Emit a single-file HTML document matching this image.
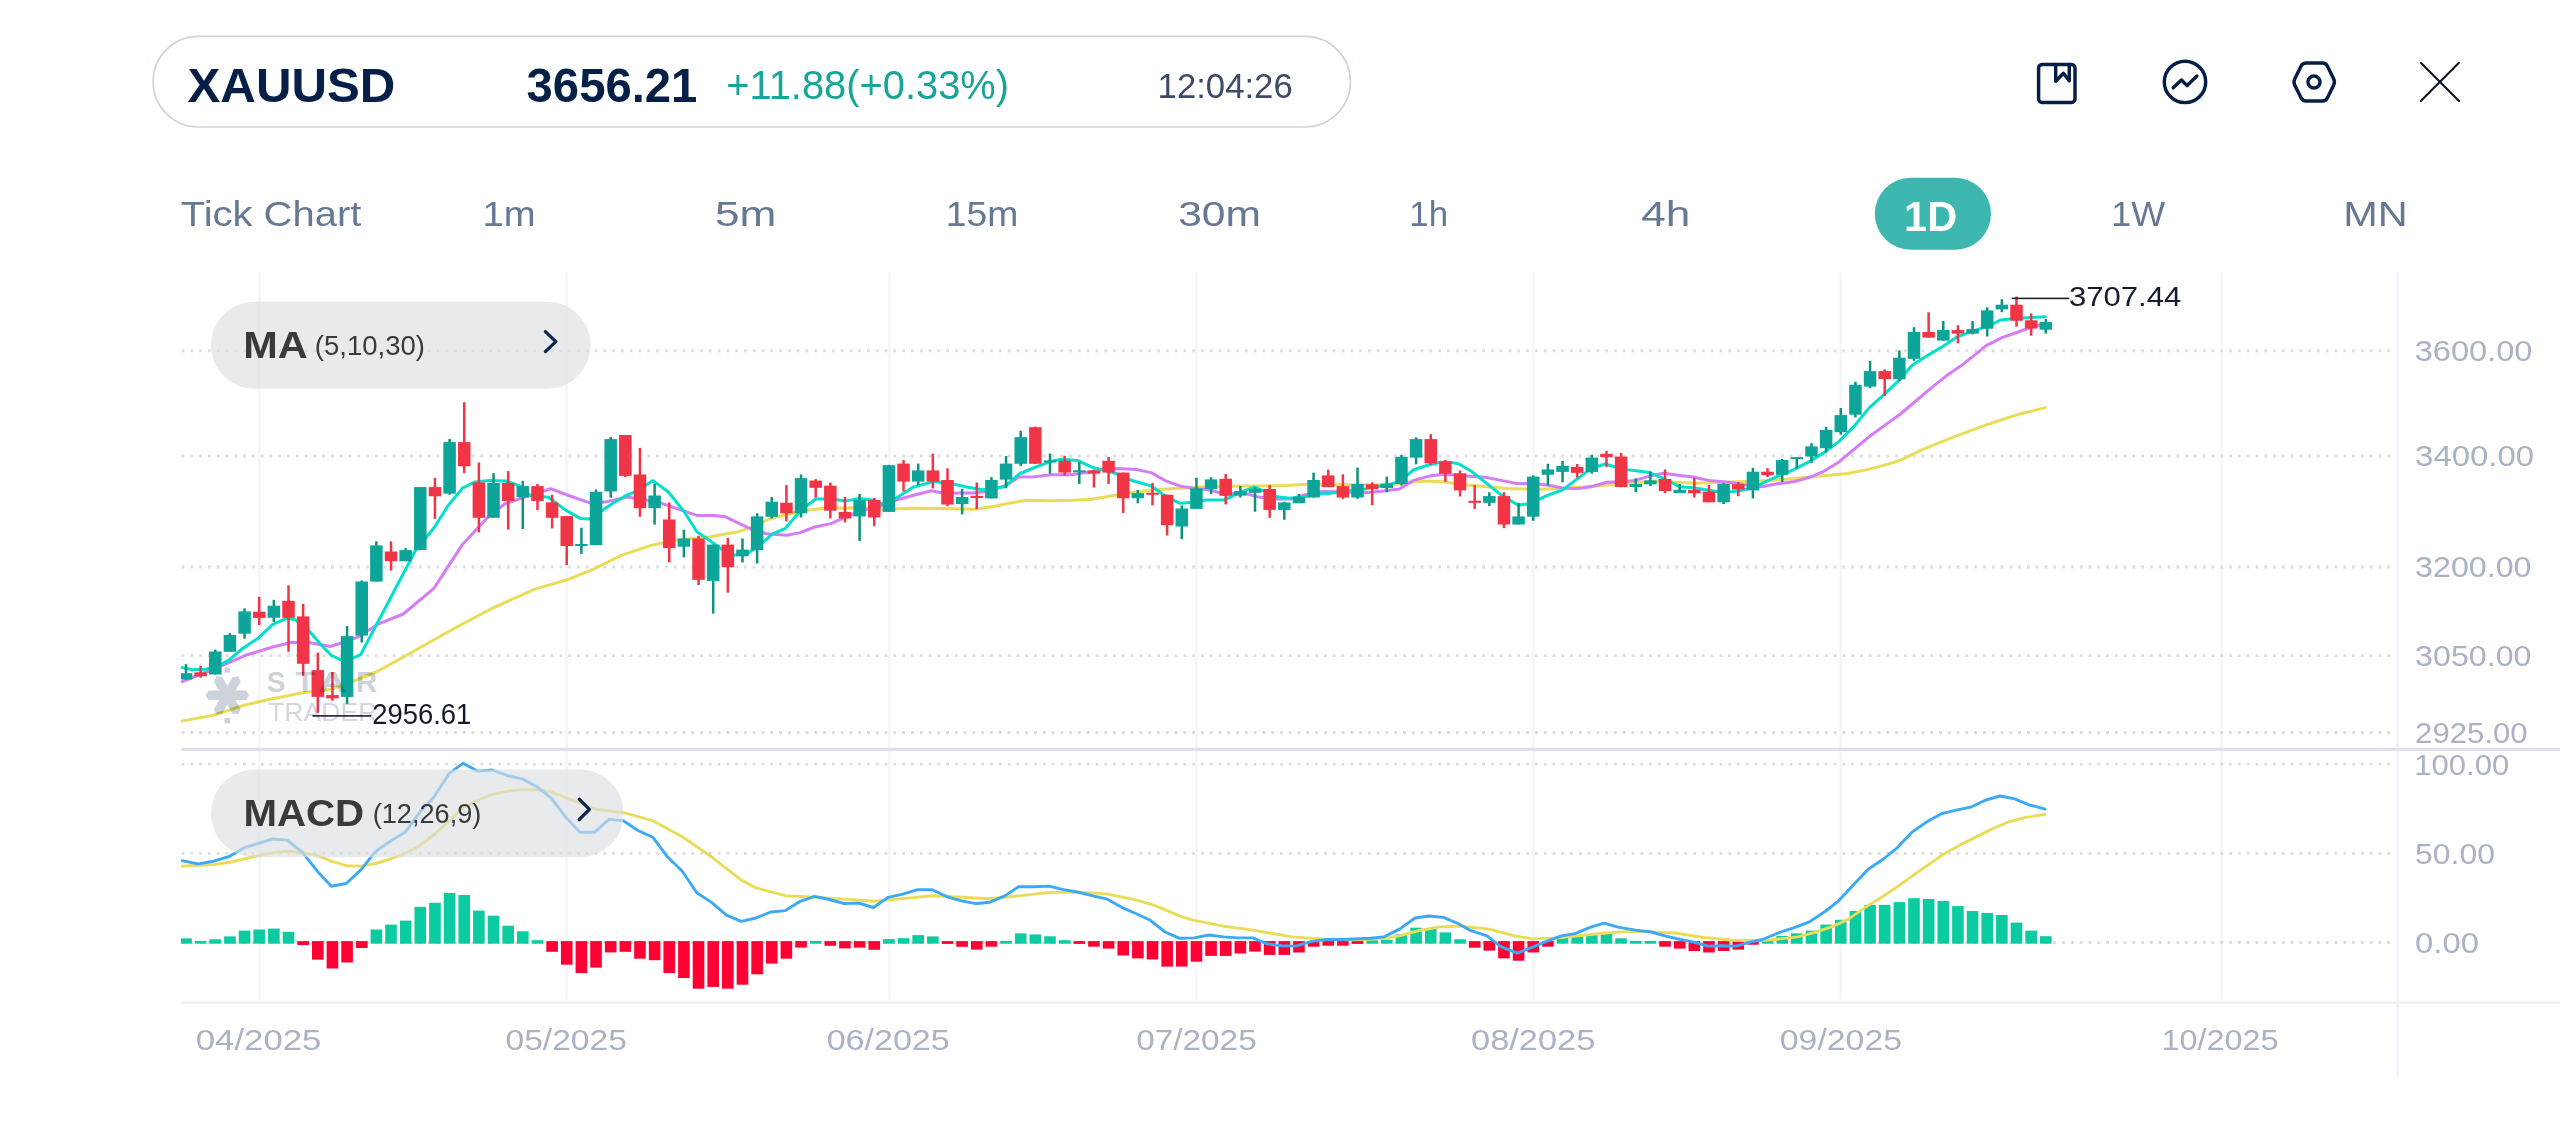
<!DOCTYPE html>
<html><head><meta charset="utf-8"><title>XAUUSD</title>
<style>html,body{margin:0;padding:0;background:#fff;}body{width:2560px;height:1124px;overflow:hidden;font-family:"Liberation Sans", sans-serif;}svg{display:block;}</style>
</head><body>
<svg width="2560" height="1124" viewBox="0 0 2560 1124" font-family='"Liberation Sans", sans-serif'>
<rect width="2560" height="1124" fill="#fff"/>
<rect x="153.1" y="36.4" width="1197.3" height="90.6" rx="45.3" fill="#fff" stroke="#CDD4E0" stroke-width="1.7"/>
<text x="187.5" y="101.9" font-size="47.91" fill="#061F47" font-weight="bold" textLength="207.9" lengthAdjust="spacingAndGlyphs">XAUUSD</text>
<text x="526.6" y="101.9" font-size="47.49" fill="#061F47" font-weight="bold" textLength="170.8" lengthAdjust="spacingAndGlyphs">3656.21</text>
<text x="726.2" y="99.1" font-size="39.8" fill="#16A596" textLength="282.8" lengthAdjust="spacingAndGlyphs">+11.88(+0.33%)</text>
<text x="1157.6" y="98" font-size="34.64" fill="#3F4B67" textLength="135.1" lengthAdjust="spacingAndGlyphs">12:04:26</text>
<g fill="none" stroke="#041E46" stroke-width="3.45" stroke-linecap="round" stroke-linejoin="round">
<rect x="2038.6" y="64.5" width="36.4" height="37.9" rx="3.4"/>
<path d="M2055.7 64.5 V81.3 L2063.4 73.3 L2069.3 80.8 V64.5"/>
<circle cx="2185.0" cy="81.9" r="20.7"/>
<path d="M2173.2 87.8 L2181.5 80.0 L2187.1 85.6 L2196.9 76.0"/>
<path d="M2306.20 63.00 L2322.30 63.00 Q2325.90 63.00 2327.48 66.23 L2333.62 78.77 Q2335.20 82.00 2333.62 85.23 L2327.48 97.77 Q2325.90 101.00 2322.30 101.00 L2306.20 101.00 Q2302.60 101.00 2301.00 97.77 L2294.80 85.23 Q2293.20 82.00 2294.80 78.77 L2301.00 66.23 Q2302.60 63.00 2306.20 63.00 Z"/>
<circle cx="2314" cy="82" r="6.05"/>
</g>
<path d="M2420.8 62.8 L2459.0 101.0 M2459.0 62.8 L2420.8 101.0" stroke="#0F1423" stroke-width="2.1" stroke-linecap="round" fill="none"/>
<text x="180.8" y="225.6" font-size="34.36" fill="#667894" textLength="180.5" lengthAdjust="spacingAndGlyphs">Tick Chart</text>
<text x="482.6" y="225.6" font-size="34.36" fill="#667894" textLength="53" lengthAdjust="spacingAndGlyphs">1m</text>
<text x="715" y="225.6" font-size="34.36" fill="#667894" textLength="61.4" lengthAdjust="spacingAndGlyphs">5m</text>
<text x="945.8" y="225.6" font-size="34.36" fill="#667894" textLength="72.5" lengthAdjust="spacingAndGlyphs">15m</text>
<text x="1178.2" y="225.6" font-size="34.36" fill="#667894" textLength="82.8" lengthAdjust="spacingAndGlyphs">30m</text>
<text x="1409.3" y="225.6" font-size="34.36" fill="#667894" textLength="38.7" lengthAdjust="spacingAndGlyphs">1h</text>
<text x="1641.3" y="225.6" font-size="34.36" fill="#667894" textLength="49.1" lengthAdjust="spacingAndGlyphs">4h</text>
<text x="2111.2" y="225.6" font-size="34.36" fill="#667894" textLength="53.8" lengthAdjust="spacingAndGlyphs">1W</text>
<text x="2343.2" y="225.6" font-size="34.36" fill="#667894" textLength="64.5" lengthAdjust="spacingAndGlyphs">MN</text>
<rect x="1874.8" y="177.8" width="116.2" height="72" rx="36" fill="#3DB7AF"/>
<text x="1904.1" y="230.6" font-size="41.9" fill="#FFFFFF" font-weight="bold" textLength="53.1" lengthAdjust="spacingAndGlyphs">1D</text>
<rect x="258.1" y="272.5" width="2.6" height="727" fill="#F5F6F8"/>
<rect x="565.3" y="272.5" width="2.6" height="727" fill="#F5F6F8"/>
<rect x="888.1" y="272.5" width="2.6" height="727" fill="#F5F6F8"/>
<rect x="1195.2" y="272.5" width="2.6" height="727" fill="#F5F6F8"/>
<rect x="1532" y="272.5" width="2.6" height="727" fill="#F5F6F8"/>
<rect x="1839.5" y="272.5" width="2.6" height="727" fill="#F5F6F8"/>
<rect x="2220.1" y="272.5" width="2.6" height="727" fill="#F5F6F8"/>
<rect x="2396.2" y="272.4" width="2.7" height="474.4" fill="#F1F2F5"/>
<rect x="2396.2" y="751.2" width="2.7" height="325.8" fill="#F1F2F5"/>
<line x1="181.63" y1="350.8" x2="2390.2" y2="350.8" stroke="#DDDDE0" stroke-width="2.8" stroke-dasharray="2.8 5.9875"/>
<line x1="181.63" y1="456" x2="2390.2" y2="456" stroke="#DDDDE0" stroke-width="2.8" stroke-dasharray="2.8 5.9875"/>
<line x1="181.63" y1="567" x2="2390.2" y2="567" stroke="#DDDDE0" stroke-width="2.8" stroke-dasharray="2.8 5.9875"/>
<line x1="181.63" y1="655.6" x2="2390.2" y2="655.6" stroke="#DDDDE0" stroke-width="2.8" stroke-dasharray="2.8 5.9875"/>
<line x1="181.63" y1="732.5" x2="2390.2" y2="732.5" stroke="#DDDDE0" stroke-width="2.8" stroke-dasharray="2.8 5.9875"/>
<line x1="181.63" y1="764.2" x2="2390.2" y2="764.2" stroke="#DDDDE0" stroke-width="2.8" stroke-dasharray="2.8 5.9875"/>
<line x1="181.63" y1="853.3" x2="2390.2" y2="853.3" stroke="#DDDDE0" stroke-width="2.8" stroke-dasharray="2.8 5.9875"/>
<line x1="181.63" y1="942.5" x2="2390.2" y2="942.5" stroke="#DDDDE0" stroke-width="2.8" stroke-dasharray="2.8 5.9875"/>
<rect x="181" y="747.8" width="2379" height="3" fill="#DCE0EC"/>
<rect x="181" y="1001.6" width="2379" height="2.2" fill="#EFF0F3"/>
<text x="2414.7" y="361.1" font-size="28.77" fill="#A9B3C4" textLength="117.8" lengthAdjust="spacingAndGlyphs">3600.00</text>
<text x="2415.1" y="466.3" font-size="28.77" fill="#A9B3C4" textLength="119" lengthAdjust="spacingAndGlyphs">3400.00</text>
<text x="2415.1" y="577.3" font-size="28.77" fill="#A9B3C4" textLength="116.4" lengthAdjust="spacingAndGlyphs">3200.00</text>
<text x="2415.1" y="665.9" font-size="28.77" fill="#A9B3C4" textLength="116.4" lengthAdjust="spacingAndGlyphs">3050.00</text>
<text x="2415.1" y="742.8" font-size="28.77" fill="#A9B3C4" textLength="112.6" lengthAdjust="spacingAndGlyphs">2925.00</text>
<text x="2414.3" y="774.5" font-size="28.77" fill="#A9B3C4" textLength="94.9" lengthAdjust="spacingAndGlyphs">100.00</text>
<text x="2415.1" y="863.6" font-size="28.77" fill="#A9B3C4" textLength="79.8" lengthAdjust="spacingAndGlyphs">50.00</text>
<text x="2415.1" y="952.8" font-size="28.77" fill="#A9B3C4" textLength="63.9" lengthAdjust="spacingAndGlyphs">0.00</text>
<text x="195.8" y="1049.7" font-size="29.61" fill="#A9B3C4" textLength="125.6" lengthAdjust="spacingAndGlyphs">04/2025</text>
<text x="505.5" y="1049.7" font-size="29.61" fill="#A9B3C4" textLength="121.4" lengthAdjust="spacingAndGlyphs">05/2025</text>
<text x="826.65" y="1049.7" font-size="29.61" fill="#A9B3C4" textLength="123.1" lengthAdjust="spacingAndGlyphs">06/2025</text>
<text x="1136.35" y="1049.7" font-size="29.61" fill="#A9B3C4" textLength="120.3" lengthAdjust="spacingAndGlyphs">07/2025</text>
<text x="1471" y="1049.7" font-size="29.61" fill="#A9B3C4" textLength="124.4" lengthAdjust="spacingAndGlyphs">08/2025</text>
<text x="1779.8" y="1049.7" font-size="29.61" fill="#A9B3C4" textLength="122.2" lengthAdjust="spacingAndGlyphs">09/2025</text>
<text x="2161.6" y="1049.7" font-size="29.61" fill="#A9B3C4" textLength="117" lengthAdjust="spacingAndGlyphs">10/2025</text>
<path d="M181.7 721.1 L213.8 715.1 L244.1 705.2 L269.8 699.2 L304.6 692.4 L327.3 690.1 L342.4 685.6 L357.5 679.5 L376 672 L400 659 L430 642 L460.5 625 L493.2 607.8 L534.2 589.4 L567 579.8 L594.6 568.6 L621.2 555.3 L651.9 545.1 L678.5 539.9 L709.1 536.9 L737.8 531.8 L750.1 527.7 L770.5 518.5 L795 512.5 L806.4 510.3 L822.7 508.6 L851.4 507.8 L882.1 509.2 L912.8 508.2 L943.5 508.6 L974.2 509.2 L994.6 506.2 L1010 503 L1026.4 500.3 L1050.9 500.7 L1071.4 500.3 L1091.8 499.2 L1112.3 495.8 L1132.8 492.5 L1153.2 490 L1173.7 488.4 L1194.2 487.6 L1214.6 486.4 L1240 485.9 L1258.5 486.1 L1286.9 485.4 L1306.9 484.3 L1329.6 484.8 L1358.1 484.8 L1379.4 485.1 L1400.8 484 L1415 481.8 L1429.3 481.1 L1443.5 481.8 L1460 484.5 L1478.5 486.1 L1506.9 488.5 L1535.4 489.4 L1563.9 488.2 L1592.3 486.5 L1613.7 484.3 L1635 482.6 L1656.4 481 L1680 482.4 L1696.7 483.2 L1723.4 482.3 L1746.5 481.5 L1767.9 480.6 L1794.6 478.4 L1821.2 476.1 L1847.9 473.5 L1865.7 469.9 L1883.5 465.4 L1899.8 460.5 L1922 449.7 L1954 436.9 L1986.1 424.9 L2018.1 414.5 L2045.3 407.6" fill="none" stroke="#EADC56" stroke-width="3.0" stroke-linejoin="round" stroke-linecap="round"/>
<path d="M181.7 681.8 L191.1 678 L206.3 672 L221.4 665.9 L245.6 655.3 L272.8 647 L291 642.5 L309.1 642.5 L330.3 646.5 L345.4 641.7 L357.5 637.2 L378 624.2 L403.2 614 L433.9 588.4 L462.5 544.4 L489.1 515.7 L505.5 503.5 L524 497.3 L550.5 488.7 L570 496 L590.5 503.1 L604.8 502.1 L627.3 497 L658 502.1 L678.5 509.2 L696.9 515.4 L713.2 515.4 L725.5 516.8 L750.1 528.7 L766.4 533.8 L786.9 535.2 L800.1 532.6 L814.6 527 L830.9 523.6 L847.3 516.4 L863.7 510.3 L880 506.2 L896.4 500 L912.8 495.5 L931.2 490.8 L945.5 493.5 L959.8 492.9 L974.2 492.9 L990.5 490.8 L1004.9 485.7 L1019 477 L1034.6 476.7 L1050.9 474.7 L1071.4 474.7 L1091.8 471.6 L1102.1 469.6 L1116.4 468.5 L1136.9 469.6 L1151.2 472.6 L1165.5 480.8 L1179.8 485.9 L1194.2 488.4 L1210.5 490 L1224.9 494.5 L1242 492.5 L1258.5 497.1 L1277 498.9 L1291.2 498.9 L1305.4 494.6 L1322.5 491.4 L1336.7 491.8 L1351 492.2 L1365.2 492.8 L1383.7 491.1 L1399.4 489 L1413.6 480.4 L1429.3 476.1 L1443.5 474.3 L1460 475.6 L1487 477.6 L1501.2 480.4 L1518.3 483.7 L1529.7 483.3 L1546.8 485.1 L1563.9 488.2 L1578.1 488.5 L1592.3 486.5 L1606.6 482.3 L1620.8 481.8 L1635 480.4 L1652.1 475.4 L1663.5 473.3 L1680 475.4 L1693.1 477 L1709.1 480.6 L1728.7 482.3 L1746.5 485 L1762.5 486.8 L1776.8 483.8 L1794.6 481.5 L1810.6 477 L1824.8 470.8 L1839 461.9 L1855 448.5 L1871.1 435.2 L1887.1 423.6 L1899.8 414.5 L1914 402.5 L1930 388.9 L1946 376.1 L1962.1 364.9 L1973.3 356.1 L1986.1 345.7 L2002.1 337.6 L2018.1 332 L2029.3 328 L2045 323.5" fill="none" stroke="#D57CF8" stroke-width="3.0" stroke-linejoin="round" stroke-linecap="round"/>
<path d="M181.7 667.4 L191.9 669.7 L206.3 669.2 L221.4 664.4 L228.2 660.6 L242.6 648.5 L258.5 637.9 L272.8 624.3 L287.2 618.2 L295.5 619.8 L309.1 631.1 L319.7 643.2 L331.1 655.3 L340.9 659.8 L352.2 658.3 L360.6 654.6 L376.3 625 L415.5 550.5 L433.9 528 L448.2 505.5 L462.5 488.1 L474.8 482 L489.1 480.5 L505.5 481 L519.8 486 L530 495.3 L548.5 497.3 L564.9 509.6 L580.1 518.4 L589.4 519.1 L602.7 510.3 L610.9 504.5 L625.2 496 L637.5 490.8 L652.9 480.6 L668.2 491.8 L684.6 512.3 L696.9 531.8 L713.2 543 L721.4 549.1 L733.7 555.3 L748 553.2 L762.3 543 L772.6 533.8 L784.9 528.7 L801 510.3 L815.6 499 L830.9 499 L845.2 501.1 L859.6 498.4 L871.8 500 L882.1 504.1 L896.4 498 L912.8 487.3 L933.2 481.6 L953.7 484.1 L968 487.3 L982.3 489.8 L1004.9 486.7 L1019 474 L1034.6 467.5 L1050.9 461.4 L1061.2 459.3 L1077.5 460.4 L1091.8 467.1 L1102.1 469.6 L1116.4 473.7 L1132.8 480.8 L1151.2 485.9 L1165.5 496.2 L1179.8 503.3 L1194.2 502.3 L1206.4 499.9 L1224.9 499.9 L1239 492.6 L1254.2 487.1 L1264.2 491.1 L1277 496.8 L1289.8 498.2 L1304 496.8 L1315.4 494.6 L1329.6 493.2 L1343.9 491.1 L1358.1 490.4 L1372.3 487.5 L1386.6 485.1 L1400.8 481.1 L1413.6 469.7 L1429.3 464.8 L1440.6 462.2 L1452 462.6 L1459 464 L1471.3 471.2 L1485.6 482.6 L1499.8 493.9 L1509.8 500.3 L1518.3 505.3 L1526.9 503.9 L1539.7 498.9 L1549.6 494.6 L1562.4 490 L1575.2 480.4 L1586.6 471.9 L1598 466.2 L1605.1 464 L1615.1 466.9 L1627.9 469.7 L1649.3 472.6 L1663.5 478.3 L1679.5 486.8 L1693.1 487.7 L1705.6 489.8 L1723.4 492.7 L1741.2 490.4 L1753.6 487.3 L1764.3 482.3 L1776.8 476.7 L1791 470.8 L1808.8 461.9 L1824.8 452.1 L1839 441.4 L1853.3 427.2 L1869.3 407.6 L1883.5 395.2 L1899.8 379.6 L1912.4 364.9 L1925.2 356.9 L1942.8 346.5 L1957.3 336.8 L1973.3 330.9 L1987.7 326.4 L2000.5 320 L2014.9 318.4 L2030.9 317.6 L2045.3 316.8" fill="none" stroke="#02DFCB" stroke-width="3.0" stroke-linejoin="round" stroke-linecap="round"/>
<rect x="184.75" y="664.1" width="2.5" height="15.4" fill="#0B937C"/>
<rect x="179.75" y="673.2" width="12.5" height="6.3" fill="#0DA49A"/>
<rect x="199.39" y="665.9" width="2.5" height="11.8" fill="#F13547"/>
<rect x="194.39" y="672.3" width="12.5" height="3.9" fill="#F13547"/>
<rect x="214.04" y="649.6" width="2.5" height="24.9" fill="#0B937C"/>
<rect x="209.04" y="651.5" width="12.5" height="23" fill="#0DA49A"/>
<rect x="228.68" y="633.1" width="2.5" height="18.7" fill="#0B937C"/>
<rect x="223.68" y="634.9" width="12.5" height="16.9" fill="#0DA49A"/>
<rect x="243.33" y="608.4" width="2.5" height="30.3" fill="#0B937C"/>
<rect x="238.33" y="611.4" width="12.5" height="22.3" fill="#0DA49A"/>
<rect x="257.97" y="596.8" width="2.5" height="28.2" fill="#F13547"/>
<rect x="252.97" y="611.7" width="12.5" height="6.2" fill="#F13547"/>
<rect x="272.61" y="599.8" width="2.5" height="22.2" fill="#0B937C"/>
<rect x="267.61" y="605.7" width="12.5" height="12.1" fill="#0DA49A"/>
<rect x="287.26" y="585.3" width="2.5" height="66.5" fill="#F13547"/>
<rect x="282.26" y="600.8" width="12.5" height="17" fill="#F13547"/>
<rect x="301.9" y="603.9" width="2.5" height="71.8" fill="#F13547"/>
<rect x="296.9" y="616.4" width="12.5" height="47.4" fill="#F13547"/>
<rect x="316.55" y="652.6" width="2.5" height="60.2" fill="#F13547"/>
<rect x="311.55" y="670.1" width="12.5" height="26.8" fill="#F13547"/>
<rect x="331.19" y="672" width="2.5" height="28.7" fill="#F13547"/>
<rect x="326.19" y="695.1" width="12.5" height="3.3" fill="#F13547"/>
<rect x="345.83" y="626.1" width="2.5" height="77.6" fill="#0B937C"/>
<rect x="340.83" y="636.1" width="12.5" height="60.8" fill="#0DA49A"/>
<rect x="360.48" y="580.4" width="2.5" height="62.1" fill="#0B937C"/>
<rect x="355.48" y="581.5" width="12.5" height="54.1" fill="#0DA49A"/>
<rect x="375.12" y="541.3" width="2.5" height="40.3" fill="#0B937C"/>
<rect x="370.12" y="545.4" width="12.5" height="36.2" fill="#0DA49A"/>
<rect x="389.77" y="541.3" width="2.5" height="29.3" fill="#F13547"/>
<rect x="384.77" y="551.5" width="12.5" height="9.7" fill="#F13547"/>
<rect x="404.41" y="548.1" width="2.5" height="13.1" fill="#0B937C"/>
<rect x="399.41" y="550.1" width="12.5" height="11.1" fill="#0DA49A"/>
<rect x="419.05" y="487.1" width="2.5" height="62.8" fill="#0B937C"/>
<rect x="414.05" y="487.1" width="12.5" height="62.8" fill="#0DA49A"/>
<rect x="433.7" y="477.9" width="2.5" height="40.9" fill="#F13547"/>
<rect x="428.7" y="487.1" width="12.5" height="9.2" fill="#F13547"/>
<rect x="448.34" y="439" width="2.5" height="55.7" fill="#0B937C"/>
<rect x="443.34" y="442.1" width="12.5" height="51.5" fill="#0DA49A"/>
<rect x="462.99" y="402.2" width="2.5" height="71" fill="#F13547"/>
<rect x="457.99" y="442.1" width="12.5" height="24.1" fill="#F13547"/>
<rect x="477.63" y="462.5" width="2.5" height="70" fill="#F13547"/>
<rect x="472.63" y="482.4" width="12.5" height="35.4" fill="#F13547"/>
<rect x="492.27" y="473.2" width="2.5" height="44.6" fill="#0B937C"/>
<rect x="487.27" y="483" width="12.5" height="34.8" fill="#0DA49A"/>
<rect x="506.92" y="471.1" width="2.5" height="58.5" fill="#F13547"/>
<rect x="501.92" y="483" width="12.5" height="18" fill="#F13547"/>
<rect x="521.56" y="480.9" width="2.5" height="48.1" fill="#0B937C"/>
<rect x="516.56" y="486.1" width="12.5" height="11.2" fill="#0DA49A"/>
<rect x="536.21" y="484" width="2.5" height="26.2" fill="#F13547"/>
<rect x="531.21" y="486.1" width="12.5" height="14.9" fill="#F13547"/>
<rect x="550.85" y="494.7" width="2.5" height="33.7" fill="#F13547"/>
<rect x="545.85" y="502.4" width="12.5" height="15.4" fill="#F13547"/>
<rect x="565.49" y="516.1" width="2.5" height="49.1" fill="#F13547"/>
<rect x="560.49" y="516.1" width="12.5" height="29.9" fill="#F13547"/>
<rect x="580.14" y="527.7" width="2.5" height="26.2" fill="#0B937C"/>
<rect x="575.14" y="544" width="12.5" height="2" fill="#0DA49A"/>
<rect x="594.78" y="489.4" width="2.5" height="55.7" fill="#0B937C"/>
<rect x="589.78" y="491.8" width="12.5" height="53.3" fill="#0DA49A"/>
<rect x="609.43" y="437" width="2.5" height="60.6" fill="#0B937C"/>
<rect x="604.43" y="439.1" width="12.5" height="52.3" fill="#0DA49A"/>
<rect x="624.07" y="435" width="2.5" height="42.1" fill="#F13547"/>
<rect x="619.07" y="435" width="12.5" height="40.9" fill="#F13547"/>
<rect x="638.71" y="447.9" width="2.5" height="68.9" fill="#F13547"/>
<rect x="633.71" y="474.5" width="12.5" height="33.7" fill="#F13547"/>
<rect x="653.36" y="483.7" width="2.5" height="40.9" fill="#0B937C"/>
<rect x="648.36" y="495.5" width="12.5" height="12.7" fill="#0DA49A"/>
<rect x="668" y="502.5" width="2.5" height="59.9" fill="#F13547"/>
<rect x="663" y="519.5" width="12.5" height="28.6" fill="#F13547"/>
<rect x="682.65" y="529.7" width="2.5" height="27.6" fill="#0B937C"/>
<rect x="677.65" y="538.5" width="12.5" height="8.2" fill="#0DA49A"/>
<rect x="697.29" y="535.8" width="2.5" height="49.2" fill="#F13547"/>
<rect x="692.29" y="538.5" width="12.5" height="41.3" fill="#F13547"/>
<rect x="711.93" y="544.6" width="2.5" height="69" fill="#0B937C"/>
<rect x="706.93" y="544.6" width="12.5" height="36.3" fill="#0DA49A"/>
<rect x="726.58" y="537.9" width="2.5" height="54.8" fill="#F13547"/>
<rect x="721.58" y="544.6" width="12.5" height="22.6" fill="#F13547"/>
<rect x="741.22" y="538.5" width="2.5" height="23.9" fill="#0B937C"/>
<rect x="736.22" y="549.6" width="12.5" height="6.7" fill="#0DA49A"/>
<rect x="755.87" y="513.3" width="2.5" height="50.2" fill="#0B937C"/>
<rect x="750.87" y="516.4" width="12.5" height="33.8" fill="#0DA49A"/>
<rect x="770.51" y="497" width="2.5" height="21.5" fill="#0B937C"/>
<rect x="765.51" y="501.7" width="12.5" height="15.1" fill="#0DA49A"/>
<rect x="785.15" y="485.1" width="2.5" height="36.4" fill="#F13547"/>
<rect x="780.15" y="502.7" width="12.5" height="10.6" fill="#F13547"/>
<rect x="799.8" y="474.5" width="2.5" height="42.9" fill="#0B937C"/>
<rect x="794.8" y="478.1" width="12.5" height="35.2" fill="#0DA49A"/>
<rect x="814.44" y="479.2" width="2.5" height="18.4" fill="#F13547"/>
<rect x="809.44" y="480.6" width="12.5" height="7.2" fill="#F13547"/>
<rect x="829.09" y="482.6" width="2.5" height="35.9" fill="#F13547"/>
<rect x="824.09" y="485.7" width="12.5" height="25" fill="#F13547"/>
<rect x="843.73" y="497" width="2.5" height="25.5" fill="#F13547"/>
<rect x="838.73" y="511.9" width="12.5" height="6.6" fill="#F13547"/>
<rect x="858.37" y="493.9" width="2.5" height="47.1" fill="#0B937C"/>
<rect x="853.37" y="500" width="12.5" height="16.4" fill="#0DA49A"/>
<rect x="873.02" y="498" width="2.5" height="28.2" fill="#F13547"/>
<rect x="868.02" y="500" width="12.5" height="17.4" fill="#F13547"/>
<rect x="887.66" y="464.8" width="2.5" height="47.1" fill="#0B937C"/>
<rect x="882.66" y="465.2" width="12.5" height="46.7" fill="#0DA49A"/>
<rect x="902.31" y="460.1" width="2.5" height="31.3" fill="#F13547"/>
<rect x="897.31" y="463.6" width="12.5" height="18" fill="#F13547"/>
<rect x="916.95" y="463.6" width="2.5" height="21.7" fill="#0B937C"/>
<rect x="911.95" y="470.4" width="12.5" height="11.2" fill="#0DA49A"/>
<rect x="931.59" y="453.6" width="2.5" height="34.8" fill="#F13547"/>
<rect x="926.59" y="470.4" width="12.5" height="11.2" fill="#F13547"/>
<rect x="946.24" y="468.3" width="2.5" height="37.9" fill="#F13547"/>
<rect x="941.24" y="480" width="12.5" height="24.5" fill="#F13547"/>
<rect x="960.88" y="488.8" width="2.5" height="25.6" fill="#0B937C"/>
<rect x="955.88" y="497" width="12.5" height="7.1" fill="#0DA49A"/>
<rect x="975.53" y="482.6" width="2.5" height="26.6" fill="#F13547"/>
<rect x="970.53" y="495.9" width="12.5" height="2.1" fill="#F13547"/>
<rect x="990.17" y="477.1" width="2.5" height="21.3" fill="#0B937C"/>
<rect x="985.17" y="480" width="12.5" height="18.4" fill="#0DA49A"/>
<rect x="1004.81" y="456" width="2.5" height="32.2" fill="#0B937C"/>
<rect x="999.81" y="463.6" width="12.5" height="16" fill="#0DA49A"/>
<rect x="1019.46" y="430.7" width="2.5" height="35.2" fill="#0B937C"/>
<rect x="1014.46" y="437.2" width="12.5" height="26.6" fill="#0DA49A"/>
<rect x="1034.1" y="426.6" width="2.5" height="37.2" fill="#F13547"/>
<rect x="1029.1" y="427.2" width="12.5" height="36.6" fill="#F13547"/>
<rect x="1048.75" y="453.6" width="2.5" height="20.1" fill="#0B937C"/>
<rect x="1043.75" y="460.4" width="12.5" height="2" fill="#0DA49A"/>
<rect x="1063.39" y="455.7" width="2.5" height="20" fill="#F13547"/>
<rect x="1058.39" y="460.8" width="12.5" height="11.8" fill="#F13547"/>
<rect x="1078.03" y="462.4" width="2.5" height="21.5" fill="#0B937C"/>
<rect x="1073.03" y="470.3" width="12.5" height="2" fill="#0DA49A"/>
<rect x="1092.68" y="469.6" width="2.5" height="18" fill="#F13547"/>
<rect x="1087.68" y="470.6" width="12.5" height="3.1" fill="#F13547"/>
<rect x="1107.32" y="456.9" width="2.5" height="27" fill="#F13547"/>
<rect x="1102.32" y="460.8" width="12.5" height="11.8" fill="#F13547"/>
<rect x="1121.97" y="472.6" width="2.5" height="40.4" fill="#F13547"/>
<rect x="1116.97" y="472.6" width="12.5" height="25.6" fill="#F13547"/>
<rect x="1136.61" y="490" width="2.5" height="13.3" fill="#0B937C"/>
<rect x="1131.61" y="493.1" width="12.5" height="5.1" fill="#0DA49A"/>
<rect x="1151.25" y="482.9" width="2.5" height="22.5" fill="#F13547"/>
<rect x="1146.25" y="492.8" width="12.5" height="2" fill="#F13547"/>
<rect x="1165.9" y="494.7" width="2.5" height="40.8" fill="#F13547"/>
<rect x="1160.9" y="494.7" width="12.5" height="30.5" fill="#F13547"/>
<rect x="1180.54" y="505.4" width="2.5" height="33.7" fill="#0B937C"/>
<rect x="1175.54" y="508.5" width="12.5" height="18" fill="#0DA49A"/>
<rect x="1195.19" y="477.8" width="2.5" height="31.1" fill="#0B937C"/>
<rect x="1190.19" y="488.4" width="12.5" height="20.5" fill="#0DA49A"/>
<rect x="1209.83" y="477.3" width="2.5" height="16.8" fill="#0B937C"/>
<rect x="1204.83" y="479.4" width="12.5" height="9.6" fill="#0DA49A"/>
<rect x="1224.47" y="474.1" width="2.5" height="30.3" fill="#F13547"/>
<rect x="1219.47" y="478.8" width="12.5" height="17" fill="#F13547"/>
<rect x="1239.12" y="486.1" width="2.5" height="11.4" fill="#0B937C"/>
<rect x="1234.12" y="491.1" width="12.5" height="4.5" fill="#0DA49A"/>
<rect x="1253.76" y="487.1" width="2.5" height="24.6" fill="#0B937C"/>
<rect x="1248.76" y="489" width="12.5" height="3.8" fill="#0DA49A"/>
<rect x="1268.41" y="485.1" width="2.5" height="32.7" fill="#F13547"/>
<rect x="1263.41" y="489" width="12.5" height="20.9" fill="#F13547"/>
<rect x="1283.05" y="501.8" width="2.5" height="18" fill="#0B937C"/>
<rect x="1278.05" y="502.5" width="12.5" height="7.4" fill="#0DA49A"/>
<rect x="1297.69" y="493.9" width="2.5" height="9.3" fill="#0B937C"/>
<rect x="1292.69" y="496.8" width="12.5" height="6.4" fill="#0DA49A"/>
<rect x="1312.34" y="472.6" width="2.5" height="24.9" fill="#0B937C"/>
<rect x="1307.34" y="480" width="12.5" height="17.5" fill="#0DA49A"/>
<rect x="1326.98" y="469.7" width="2.5" height="17.4" fill="#F13547"/>
<rect x="1321.98" y="475.4" width="12.5" height="11.7" fill="#F13547"/>
<rect x="1341.63" y="474.3" width="2.5" height="24.6" fill="#F13547"/>
<rect x="1336.63" y="486.1" width="12.5" height="11.4" fill="#F13547"/>
<rect x="1356.27" y="467.6" width="2.5" height="31.3" fill="#0B937C"/>
<rect x="1351.27" y="484" width="12.5" height="13.5" fill="#0DA49A"/>
<rect x="1370.91" y="482.3" width="2.5" height="23" fill="#F13547"/>
<rect x="1365.91" y="484.3" width="12.5" height="4.7" fill="#F13547"/>
<rect x="1385.56" y="476.6" width="2.5" height="15.6" fill="#0B937C"/>
<rect x="1380.56" y="483.7" width="12.5" height="4.3" fill="#0DA49A"/>
<rect x="1400.2" y="454.8" width="2.5" height="30.6" fill="#0B937C"/>
<rect x="1395.2" y="456.9" width="12.5" height="27.1" fill="#0DA49A"/>
<rect x="1414.85" y="437.3" width="2.5" height="27" fill="#0B937C"/>
<rect x="1409.85" y="439.1" width="12.5" height="18.5" fill="#0DA49A"/>
<rect x="1429.49" y="434.2" width="2.5" height="30.6" fill="#F13547"/>
<rect x="1424.49" y="439.1" width="12.5" height="24.2" fill="#F13547"/>
<rect x="1444.13" y="459.8" width="2.5" height="22" fill="#F13547"/>
<rect x="1439.13" y="461.5" width="12.5" height="12.2" fill="#F13547"/>
<rect x="1458.78" y="470.5" width="2.5" height="26" fill="#F13547"/>
<rect x="1453.78" y="473.3" width="12.5" height="17.1" fill="#F13547"/>
<rect x="1473.42" y="485.1" width="2.5" height="23.8" fill="#F13547"/>
<rect x="1468.42" y="500.8" width="12.5" height="2" fill="#F13547"/>
<rect x="1488.07" y="492.2" width="2.5" height="13.8" fill="#0B937C"/>
<rect x="1483.07" y="496.1" width="12.5" height="6.7" fill="#0DA49A"/>
<rect x="1502.71" y="492.2" width="2.5" height="35.9" fill="#F13547"/>
<rect x="1497.71" y="496.1" width="12.5" height="28.4" fill="#F13547"/>
<rect x="1517.35" y="502.8" width="2.5" height="21.7" fill="#0B937C"/>
<rect x="1512.35" y="516.4" width="12.5" height="8.1" fill="#0DA49A"/>
<rect x="1532" y="475.4" width="2.5" height="45.3" fill="#0B937C"/>
<rect x="1527" y="476.6" width="12.5" height="40.1" fill="#0DA49A"/>
<rect x="1546.64" y="463.8" width="2.5" height="21.6" fill="#0B937C"/>
<rect x="1541.64" y="469.5" width="12.5" height="5.2" fill="#0DA49A"/>
<rect x="1561.29" y="460.9" width="2.5" height="21.4" fill="#0B937C"/>
<rect x="1556.29" y="465.8" width="12.5" height="6.1" fill="#0DA49A"/>
<rect x="1575.93" y="464" width="2.5" height="13.6" fill="#F13547"/>
<rect x="1570.93" y="466.9" width="12.5" height="6" fill="#F13547"/>
<rect x="1590.57" y="454.8" width="2.5" height="18.9" fill="#0B937C"/>
<rect x="1585.57" y="457.6" width="12.5" height="14.3" fill="#0DA49A"/>
<rect x="1605.22" y="451" width="2.5" height="15.9" fill="#F13547"/>
<rect x="1600.22" y="453.8" width="12.5" height="3.4" fill="#F13547"/>
<rect x="1619.86" y="452.9" width="2.5" height="34.2" fill="#F13547"/>
<rect x="1614.86" y="456.6" width="12.5" height="30.5" fill="#F13547"/>
<rect x="1634.51" y="478.3" width="2.5" height="13.9" fill="#0B937C"/>
<rect x="1629.51" y="484" width="12.5" height="3.1" fill="#0DA49A"/>
<rect x="1649.15" y="471.4" width="2.5" height="14.7" fill="#0B937C"/>
<rect x="1644.15" y="480.4" width="12.5" height="3.9" fill="#0DA49A"/>
<rect x="1663.79" y="469.5" width="2.5" height="23.7" fill="#F13547"/>
<rect x="1658.79" y="479" width="12.5" height="12.1" fill="#F13547"/>
<rect x="1678.44" y="484.1" width="2.5" height="8.9" fill="#0B937C"/>
<rect x="1673.44" y="489.8" width="12.5" height="3.2" fill="#0DA49A"/>
<rect x="1693.08" y="477.9" width="2.5" height="19.6" fill="#F13547"/>
<rect x="1688.08" y="489.8" width="12.5" height="3.6" fill="#F13547"/>
<rect x="1707.73" y="485" width="2.5" height="17.3" fill="#F13547"/>
<rect x="1702.73" y="491.6" width="12.5" height="10.7" fill="#F13547"/>
<rect x="1722.37" y="483.2" width="2.5" height="20.8" fill="#0B937C"/>
<rect x="1717.37" y="483.8" width="12.5" height="18.5" fill="#0DA49A"/>
<rect x="1737.01" y="482.3" width="2.5" height="13.9" fill="#F13547"/>
<rect x="1732.01" y="484.1" width="12.5" height="5.4" fill="#F13547"/>
<rect x="1751.66" y="467.8" width="2.5" height="30.6" fill="#0B937C"/>
<rect x="1746.66" y="471.7" width="12.5" height="18.7" fill="#0DA49A"/>
<rect x="1766.3" y="468.1" width="2.5" height="8.9" fill="#F13547"/>
<rect x="1761.3" y="471.7" width="12.5" height="3.5" fill="#F13547"/>
<rect x="1780.95" y="458.9" width="2.5" height="23.1" fill="#0B937C"/>
<rect x="1775.95" y="460.1" width="12.5" height="14.8" fill="#0DA49A"/>
<rect x="1795.59" y="457.4" width="2.5" height="11.1" fill="#0B937C"/>
<rect x="1790.59" y="457.15" width="12.5" height="2" fill="#0DA49A"/>
<rect x="1810.23" y="443.2" width="2.5" height="19.6" fill="#0B937C"/>
<rect x="1805.23" y="446.4" width="12.5" height="10.1" fill="#0DA49A"/>
<rect x="1824.88" y="426.8" width="2.5" height="25.7" fill="#0B937C"/>
<rect x="1819.88" y="429.9" width="12.5" height="18.3" fill="#0DA49A"/>
<rect x="1839.52" y="408" width="2.5" height="26.7" fill="#0B937C"/>
<rect x="1834.52" y="415.1" width="12.5" height="17.1" fill="#0DA49A"/>
<rect x="1854.17" y="381.8" width="2.5" height="35.6" fill="#0B937C"/>
<rect x="1849.17" y="384.8" width="12.5" height="29.9" fill="#0DA49A"/>
<rect x="1868.81" y="361" width="2.5" height="27" fill="#0B937C"/>
<rect x="1863.81" y="371.1" width="12.5" height="15.5" fill="#0DA49A"/>
<rect x="1883.45" y="369.4" width="2.5" height="26.6" fill="#F13547"/>
<rect x="1878.45" y="371.1" width="12.5" height="8" fill="#F13547"/>
<rect x="1898.1" y="350.5" width="2.5" height="30.7" fill="#0B937C"/>
<rect x="1893.1" y="357.7" width="12.5" height="21.6" fill="#0DA49A"/>
<rect x="1912.74" y="327.2" width="2.5" height="33.7" fill="#0B937C"/>
<rect x="1907.74" y="332" width="12.5" height="26.8" fill="#0DA49A"/>
<rect x="1927.39" y="312.3" width="2.5" height="25.3" fill="#F13547"/>
<rect x="1922.39" y="332" width="12.5" height="5.6" fill="#F13547"/>
<rect x="1942.03" y="321" width="2.5" height="19.6" fill="#0B937C"/>
<rect x="1937.03" y="330" width="12.5" height="10.6" fill="#0DA49A"/>
<rect x="1956.67" y="325.2" width="2.5" height="18.2" fill="#F13547"/>
<rect x="1951.67" y="330.1" width="12.5" height="3.5" fill="#F13547"/>
<rect x="1971.32" y="321.1" width="2.5" height="13.3" fill="#0B937C"/>
<rect x="1966.32" y="329.1" width="12.5" height="4.5" fill="#0DA49A"/>
<rect x="1985.96" y="307.4" width="2.5" height="29.1" fill="#0B937C"/>
<rect x="1980.96" y="310.4" width="12.5" height="18.3" fill="#0DA49A"/>
<rect x="2000.61" y="299.2" width="2.5" height="13" fill="#0B937C"/>
<rect x="1995.61" y="304.7" width="12.5" height="4.7" fill="#0DA49A"/>
<rect x="2015.25" y="296.5" width="2.5" height="30.2" fill="#F13547"/>
<rect x="2010.25" y="304.7" width="12.5" height="16.1" fill="#F13547"/>
<rect x="2029.89" y="313.5" width="2.5" height="22.2" fill="#F13547"/>
<rect x="2024.89" y="320.3" width="12.5" height="8.3" fill="#F13547"/>
<rect x="2044.54" y="319.1" width="2.5" height="14.5" fill="#0B937C"/>
<rect x="2039.54" y="322" width="12.5" height="7.7" fill="#0DA49A"/>
<rect x="180.2" y="938.4" width="11.6" height="5.3" fill="#0BCBA0"/>
<rect x="194.84" y="940.9" width="11.6" height="2.8" fill="#0BCBA0"/>
<rect x="209.49" y="939.3" width="11.6" height="4.4" fill="#0BCBA0"/>
<rect x="224.13" y="936.4" width="11.6" height="7.3" fill="#0BCBA0"/>
<rect x="238.78" y="930.6" width="11.6" height="13.1" fill="#0BCBA0"/>
<rect x="253.42" y="929.5" width="11.6" height="14.2" fill="#0BCBA0"/>
<rect x="268.06" y="928.6" width="11.6" height="15.1" fill="#0BCBA0"/>
<rect x="282.71" y="931.8" width="11.6" height="11.9" fill="#0BCBA0"/>
<rect x="297.35" y="941.1" width="11.6" height="4" fill="#FF0032"/>
<rect x="312" y="941.1" width="11.6" height="18.5" fill="#FF0032"/>
<rect x="326.64" y="941.1" width="11.6" height="27.4" fill="#FF0032"/>
<rect x="341.28" y="941.1" width="11.6" height="21.4" fill="#FF0032"/>
<rect x="355.93" y="941.1" width="11.6" height="6.9" fill="#FF0032"/>
<rect x="370.57" y="929.5" width="11.6" height="14.2" fill="#0BCBA0"/>
<rect x="385.22" y="924.6" width="11.6" height="19.1" fill="#0BCBA0"/>
<rect x="399.86" y="920.6" width="11.6" height="23.1" fill="#0BCBA0"/>
<rect x="414.5" y="906.8" width="11.6" height="36.9" fill="#0BCBA0"/>
<rect x="429.15" y="902.8" width="11.6" height="40.9" fill="#0BCBA0"/>
<rect x="443.79" y="893" width="11.6" height="50.7" fill="#0BCBA0"/>
<rect x="458.44" y="895" width="11.6" height="48.7" fill="#0BCBA0"/>
<rect x="473.08" y="910.6" width="11.6" height="33.1" fill="#0BCBA0"/>
<rect x="487.72" y="915.7" width="11.6" height="28" fill="#0BCBA0"/>
<rect x="502.37" y="925.7" width="11.6" height="18" fill="#0BCBA0"/>
<rect x="517.01" y="931.3" width="11.6" height="12.4" fill="#0BCBA0"/>
<rect x="531.66" y="940.2" width="11.6" height="3.5" fill="#0BCBA0"/>
<rect x="546.3" y="941.1" width="11.6" height="10.7" fill="#FF0032"/>
<rect x="560.94" y="941.1" width="11.6" height="23.6" fill="#FF0032"/>
<rect x="575.59" y="941.1" width="11.6" height="32" fill="#FF0032"/>
<rect x="590.23" y="941.1" width="11.6" height="26.5" fill="#FF0032"/>
<rect x="604.88" y="941.1" width="11.6" height="11.3" fill="#FF0032"/>
<rect x="619.52" y="941.1" width="11.6" height="10.7" fill="#FF0032"/>
<rect x="634.16" y="941.1" width="11.6" height="17.6" fill="#FF0032"/>
<rect x="648.81" y="941.1" width="11.6" height="19.1" fill="#FF0032"/>
<rect x="663.45" y="941.1" width="11.6" height="32" fill="#FF0032"/>
<rect x="678.1" y="941.1" width="11.6" height="36.9" fill="#FF0032"/>
<rect x="692.74" y="941.1" width="11.6" height="47.6" fill="#FF0032"/>
<rect x="707.38" y="941.1" width="11.6" height="45.8" fill="#FF0032"/>
<rect x="722.03" y="941.1" width="11.6" height="47.6" fill="#FF0032"/>
<rect x="736.67" y="941.1" width="11.6" height="43.6" fill="#FF0032"/>
<rect x="751.32" y="941.1" width="11.6" height="33.2" fill="#FF0032"/>
<rect x="765.96" y="941.1" width="11.6" height="22.5" fill="#FF0032"/>
<rect x="780.6" y="941.1" width="11.6" height="17.6" fill="#FF0032"/>
<rect x="795.25" y="941.1" width="11.6" height="6.5" fill="#FF0032"/>
<rect x="809.89" y="940.9" width="11.6" height="2.8" fill="#0BCBA0"/>
<rect x="824.54" y="941.1" width="11.6" height="4.7" fill="#FF0032"/>
<rect x="839.18" y="941.1" width="11.6" height="7.3" fill="#FF0032"/>
<rect x="853.82" y="941.1" width="11.6" height="6.5" fill="#FF0032"/>
<rect x="868.47" y="941.1" width="11.6" height="8.7" fill="#FF0032"/>
<rect x="883.11" y="939.1" width="11.6" height="4.6" fill="#0BCBA0"/>
<rect x="897.76" y="938.2" width="11.6" height="5.5" fill="#0BCBA0"/>
<rect x="912.4" y="935.1" width="11.6" height="8.6" fill="#0BCBA0"/>
<rect x="927.04" y="936.4" width="11.6" height="7.3" fill="#0BCBA0"/>
<rect x="941.69" y="941.1" width="11.6" height="2.8" fill="#FF0032"/>
<rect x="956.33" y="941.1" width="11.6" height="5.7" fill="#FF0032"/>
<rect x="970.98" y="941.1" width="11.6" height="8.5" fill="#FF0032"/>
<rect x="985.62" y="941.1" width="11.6" height="5.6" fill="#FF0032"/>
<rect x="1000.26" y="940.9" width="11.6" height="2.8" fill="#0BCBA0"/>
<rect x="1014.91" y="933.4" width="11.6" height="10.3" fill="#0BCBA0"/>
<rect x="1029.55" y="934.4" width="11.6" height="9.3" fill="#0BCBA0"/>
<rect x="1044.2" y="936.3" width="11.6" height="7.4" fill="#0BCBA0"/>
<rect x="1058.84" y="940.2" width="11.6" height="3.5" fill="#0BCBA0"/>
<rect x="1073.48" y="941.1" width="11.6" height="2.8" fill="#FF0032"/>
<rect x="1088.13" y="941.1" width="11.6" height="5.6" fill="#FF0032"/>
<rect x="1102.77" y="941.1" width="11.6" height="7.5" fill="#FF0032"/>
<rect x="1117.42" y="941.1" width="11.6" height="14.4" fill="#FF0032"/>
<rect x="1132.06" y="941.1" width="11.6" height="17.3" fill="#FF0032"/>
<rect x="1146.7" y="941.1" width="11.6" height="18.3" fill="#FF0032"/>
<rect x="1161.35" y="941.1" width="11.6" height="25.5" fill="#FF0032"/>
<rect x="1175.99" y="941.1" width="11.6" height="25.5" fill="#FF0032"/>
<rect x="1190.64" y="941.1" width="11.6" height="20.6" fill="#FF0032"/>
<rect x="1205.28" y="941.1" width="11.6" height="14.8" fill="#FF0032"/>
<rect x="1219.92" y="941.1" width="11.6" height="14.8" fill="#FF0032"/>
<rect x="1234.57" y="941.1" width="11.6" height="12.4" fill="#FF0032"/>
<rect x="1249.21" y="941.1" width="11.6" height="10.5" fill="#FF0032"/>
<rect x="1263.86" y="941.1" width="11.6" height="13.8" fill="#FF0032"/>
<rect x="1278.5" y="941.1" width="11.6" height="13.8" fill="#FF0032"/>
<rect x="1293.14" y="941.1" width="11.6" height="11.4" fill="#FF0032"/>
<rect x="1307.79" y="941.1" width="11.6" height="5.6" fill="#FF0032"/>
<rect x="1322.43" y="941.1" width="11.6" height="4.6" fill="#FF0032"/>
<rect x="1337.08" y="941.1" width="11.6" height="4.6" fill="#FF0032"/>
<rect x="1351.72" y="941.1" width="11.6" height="2.8" fill="#FF0032"/>
<rect x="1366.36" y="940.2" width="11.6" height="3.5" fill="#0BCBA0"/>
<rect x="1381.01" y="939.8" width="11.6" height="3.9" fill="#0BCBA0"/>
<rect x="1395.65" y="934.4" width="11.6" height="9.3" fill="#0BCBA0"/>
<rect x="1410.3" y="927.7" width="11.6" height="16" fill="#0BCBA0"/>
<rect x="1424.94" y="928.5" width="11.6" height="15.2" fill="#0BCBA0"/>
<rect x="1439.58" y="932.4" width="11.6" height="11.3" fill="#0BCBA0"/>
<rect x="1454.23" y="939.3" width="11.6" height="4.4" fill="#0BCBA0"/>
<rect x="1468.87" y="941.1" width="11.6" height="6.6" fill="#FF0032"/>
<rect x="1483.52" y="941.1" width="11.6" height="9.5" fill="#FF0032"/>
<rect x="1498.16" y="941.1" width="11.6" height="17.3" fill="#FF0032"/>
<rect x="1512.8" y="941.1" width="11.6" height="19.6" fill="#FF0032"/>
<rect x="1527.45" y="941.1" width="11.6" height="11.4" fill="#FF0032"/>
<rect x="1542.09" y="941.1" width="11.6" height="5.6" fill="#FF0032"/>
<rect x="1556.74" y="937.9" width="11.6" height="5.8" fill="#0BCBA0"/>
<rect x="1571.38" y="936.9" width="11.6" height="6.8" fill="#0BCBA0"/>
<rect x="1586.02" y="934.4" width="11.6" height="9.3" fill="#0BCBA0"/>
<rect x="1600.67" y="933" width="11.6" height="10.7" fill="#0BCBA0"/>
<rect x="1615.31" y="938.3" width="11.6" height="5.4" fill="#0BCBA0"/>
<rect x="1629.96" y="940.9" width="11.6" height="2.8" fill="#0BCBA0"/>
<rect x="1644.6" y="940.9" width="11.6" height="2.8" fill="#0BCBA0"/>
<rect x="1659.24" y="941.1" width="11.6" height="5.6" fill="#FF0032"/>
<rect x="1673.89" y="941.1" width="11.6" height="7.5" fill="#FF0032"/>
<rect x="1688.53" y="941.1" width="11.6" height="9.9" fill="#FF0032"/>
<rect x="1703.18" y="941.1" width="11.6" height="11.4" fill="#FF0032"/>
<rect x="1717.82" y="941.1" width="11.6" height="9.9" fill="#FF0032"/>
<rect x="1732.46" y="941.1" width="11.6" height="8.5" fill="#FF0032"/>
<rect x="1747.11" y="941.1" width="11.6" height="3.6" fill="#FF0032"/>
<rect x="1761.75" y="940.8" width="11.6" height="2.9" fill="#0BCBA0"/>
<rect x="1776.4" y="935.9" width="11.6" height="7.8" fill="#0BCBA0"/>
<rect x="1791.04" y="933.4" width="11.6" height="10.3" fill="#0BCBA0"/>
<rect x="1805.68" y="930.6" width="11.6" height="13.1" fill="#0BCBA0"/>
<rect x="1820.33" y="924.6" width="11.6" height="19.1" fill="#0BCBA0"/>
<rect x="1834.97" y="919.8" width="11.6" height="23.9" fill="#0BCBA0"/>
<rect x="1849.62" y="911" width="11.6" height="32.7" fill="#0BCBA0"/>
<rect x="1864.26" y="904.9" width="11.6" height="38.8" fill="#0BCBA0"/>
<rect x="1878.9" y="904.9" width="11.6" height="38.8" fill="#0BCBA0"/>
<rect x="1893.55" y="902.1" width="11.6" height="41.6" fill="#0BCBA0"/>
<rect x="1908.19" y="898.2" width="11.6" height="45.5" fill="#0BCBA0"/>
<rect x="1922.84" y="899" width="11.6" height="44.7" fill="#0BCBA0"/>
<rect x="1937.48" y="900.9" width="11.6" height="42.8" fill="#0BCBA0"/>
<rect x="1952.12" y="906.1" width="11.6" height="37.6" fill="#0BCBA0"/>
<rect x="1966.77" y="911" width="11.6" height="32.7" fill="#0BCBA0"/>
<rect x="1981.41" y="913" width="11.6" height="30.7" fill="#0BCBA0"/>
<rect x="1996.06" y="915" width="11.6" height="28.7" fill="#0BCBA0"/>
<rect x="2010.7" y="922.6" width="11.6" height="21.1" fill="#0BCBA0"/>
<rect x="2025.34" y="930.6" width="11.6" height="13.1" fill="#0BCBA0"/>
<rect x="2039.99" y="936.2" width="11.6" height="7.5" fill="#0BCBA0"/>
<path d="M181.6 866.1 L198.2 865.2 L213.8 864.6 L229.4 862.3 L243.9 859 L258.3 855.7 L272.8 852.8 L287.2 851.2 L302.4 852.3 L317.3 855.7 L331.3 861.2 L346.2 865.7 L360.6 866.1 L375.8 863.5 L390.2 859 L405.1 853.4 L419.8 845.7 L434.1 834.5 L449.2 821.2 L463 807.8 L477.5 800 L491.9 794.5 L507.5 791.2 L522.2 789.6 L536.8 789.6 L552 792.3 L566 797.8 L580 803 L594.5 809 L623.4 812.7 L652.8 820.7 L682.3 836.8 L711.5 856.8 L741.3 880.1 L756 887.9 L785.4 895.7 L814.7 897.3 L844.1 899.1 L873.5 901.3 L902.8 898.6 L932.2 895.7 L961.5 897.3 L989.3 898.8 L1018.6 895.9 L1047.9 892.6 L1077.2 892 L1106.5 893.9 L1135.8 899.8 L1155.3 905.7 L1180.7 916.4 L1194.4 920.3 L1223.7 926.2 L1253 930.1 L1292 936.9 L1321.3 938.9 L1350.6 939.8 L1379.9 938.9 L1399.5 935.9 L1419 930.5 L1438.5 927.1 L1460 926 L1489.1 929.1 L1516.4 936.3 L1532 938.9 L1557.4 937.9 L1586.7 935 L1606.3 933 L1625.8 931.6 L1645.3 931.6 L1674.6 933 L1703.9 937.5 L1733.2 940.2 L1752.7 940.8 L1772.3 939.8 L1797.7 936.9 L1816 932.2 L1832 926.6 L1848.1 919.4 L1864.1 908.1 L1880.1 898.2 L1896.1 887.6 L1912.1 876.1 L1928.1 864.9 L1944.2 853.7 L1960.2 844.9 L1976.2 836.9 L1992.2 828.9 L2008.2 822 L2024.3 817.6 L2045.1 814.4" fill="none" stroke="#E9DC58" stroke-width="2.9" stroke-linejoin="round" stroke-linecap="round"/>
<path d="M181.6 860.6 L198.2 863.9 L213.8 861.2 L229.4 856.3 L243.9 847.9 L258.3 843.4 L272.8 839 L287.2 840.1 L302.4 852.3 L317.3 871.2 L331.3 886.2 L346.2 883.5 L360.6 870.1 L375.8 851.2 L390.2 841.2 L405.1 832.3 L419.8 812.3 L434.1 796.7 L449.2 773.4 L463 763.3 L477.5 771.1 L491.9 770 L507.5 775.6 L522.2 778.9 L536.8 786.7 L552 798.9 L565.3 816.7 L580 832.3 L594.5 832.3 L608.9 819.4 L623.4 820.7 L637.9 830.5 L652.8 837.2 L667.4 856.8 L682.3 871.2 L696.8 892.8 L711.5 902.4 L726.4 915.1 L741.3 921.3 L756 918 L770.7 912 L785.4 910.6 L800.3 901.3 L814.7 896.4 L829.4 899.5 L844.1 903.5 L858.8 903.1 L873.5 907.5 L888.1 897.3 L902.8 894.2 L917.5 889.7 L932.2 889.7 L947.1 896.8 L961.5 900.8 L975.6 903.7 L989.3 902.3 L1004.9 895.9 L1018.6 886.7 L1034.2 886.7 L1048.9 886.1 L1063.5 889.6 L1077.2 892 L1092.8 895.9 L1106.5 898.8 L1122.1 907.6 L1135.8 913.5 L1150.4 920.3 L1165.1 932 L1179.7 938.3 L1194.4 937.9 L1209 935 L1223.7 936.9 L1238.3 937.9 L1253 937.9 L1266.6 943.75 L1281.3 945.7 L1295.9 946.1 L1311.6 941.4 L1327.2 939.5 L1342.8 939.5 L1370.2 938.3 L1383.8 936.9 L1399.5 929.1 L1415.1 918 L1428.8 916 L1443.4 917.4 L1458 923.5 L1469.5 930.1 L1487.1 935.9 L1500.8 946.7 L1517.4 953.1 L1532 947.3 L1547.7 940.8 L1561.3 935.9 L1575 933.6 L1590.6 927.1 L1604.3 923.2 L1618 927.1 L1635.5 930.1 L1651.2 932 L1664.8 935.9 L1680.5 939.5 L1694.1 942.2 L1707.8 946.1 L1721.5 945.7 L1736.1 946.1 L1750.8 941.8 L1762.5 939.5 L1778.1 933 L1795.7 927.1 L1809.4 921.9 L1825 911.5 L1838.7 900.8 L1852.6 885.8 L1868.5 869 L1883.5 859 L1897.7 847.3 L1912.1 832.1 L1926.5 822 L1941.8 813.6 L1956.2 810.1 L1970.6 807.2 L1985.8 800 L2000.2 796 L2014.6 798.9 L2029.1 804.8 L2045.1 809.2" fill="none" stroke="#3BA9F8" stroke-width="2.9" stroke-linejoin="round" stroke-linecap="round"/>
<rect x="160" y="265" width="21" height="740" fill="#fff"/>
<rect x="2011.7" y="297.6" width="57.6" height="1.6" fill="#1D2233"/>
<text x="2068.9" y="306.4" font-size="28.35" fill="#161C2E" textLength="112.5" lengthAdjust="spacingAndGlyphs">3707.44</text>
<rect x="312.5" y="715.1" width="58.6" height="1.6" fill="#1D2233"/>
<g style="mix-blend-mode:multiply" fill="#CDD2DB">
<g transform="translate(227.3 695.3)">
<path transform="rotate(0)" d="M-22 0 L-18.5 -4.7 H18.5 L22 0 L18.5 4.7 H-18.5 Z"/>
<path transform="rotate(60)" d="M-22 0 L-18.5 -4.7 H18.5 L22 0 L18.5 4.7 H-18.5 Z"/>
<path transform="rotate(-60)" d="M-22 0 L-18.5 -4.7 H18.5 L22 0 L18.5 4.7 H-18.5 Z"/>
<rect x="-2.8" y="-27.8" width="5.6" height="5.2"/>
<rect x="-2.8" y="22.7" width="5.6" height="5.4"/>
</g>
<text x="266.7" y="691.6" font-size="28.63" fill="#CDD2DB" font-weight="bold" textLength="18.8" lengthAdjust="spacingAndGlyphs">S</text>
<text x="295.5" y="691.6" font-size="28.63" fill="#CDD2DB" font-weight="bold" textLength="19.3" lengthAdjust="spacingAndGlyphs">T</text>
<text x="318.3" y="691.6" font-size="28.63" fill="#CDD2DB" font-weight="bold" textLength="28.2" lengthAdjust="spacingAndGlyphs">A</text>
<text x="355.9" y="691.6" font-size="28.63" fill="#CDD2DB" font-weight="bold" textLength="21.3" lengthAdjust="spacingAndGlyphs">R</text>
<text x="268" y="720.9" font-size="25.42" fill="#D3D7DF" textLength="109.5" lengthAdjust="spacingAndGlyphs">TRADER</text>
</g>
<text x="372.2" y="723.8" font-size="28.63" fill="#141B2D" textLength="99.1" lengthAdjust="spacingAndGlyphs">2956.61</text>
<rect x="210.9" y="301.7" width="379.7" height="87" rx="43.5" fill="#DCDEE2" fill-opacity="0.65"/>
<text x="243.3" y="358.4" font-size="37.01" fill="#3A3A3C" font-weight="bold" textLength="64.5" lengthAdjust="spacingAndGlyphs">MA</text>
<text x="314.8" y="355.3" font-size="27.51" fill="#3A3A3C" textLength="110.2" lengthAdjust="spacingAndGlyphs">(5,10,30)</text>
<path d="M545.4 331.7 L555.9 341.6 L545.4 351.6" fill="none" stroke="#0B2450" stroke-width="3.2" stroke-linecap="round" stroke-linejoin="round"/>
<rect x="210.9" y="769.6" width="412.9" height="87.6" rx="43.8" fill="#DCDEE2" fill-opacity="0.65"/>
<text x="243.4" y="826" font-size="37.01" fill="#3A3A3C" font-weight="bold" textLength="120.7" lengthAdjust="spacingAndGlyphs">MACD</text>
<text x="372.7" y="823" font-size="27.51" fill="#3A3A3C" textLength="108.7" lengthAdjust="spacingAndGlyphs">(12,26,9)</text>
<path d="M579.2 799.2 L589.4 809.3 L579.2 819.5" fill="none" stroke="#0B2450" stroke-width="3.2" stroke-linecap="round" stroke-linejoin="round"/>
</svg>
</body></html>
